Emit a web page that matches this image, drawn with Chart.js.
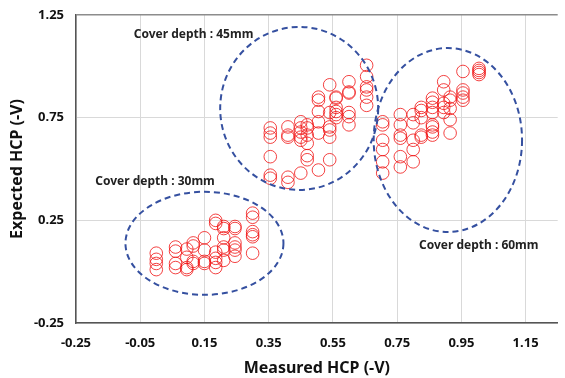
<!DOCTYPE html>
<html>
<head>
<meta charset="utf-8">
<script src="https://cdn.jsdelivr.net/npm/chart.js@4"></script>
<style>
  html, body { margin: 0; padding: 0; background: #fff; }
  #wrap { width: 565px; height: 378px; }
</style>
</head>
<body>
<div id="wrap"><canvas id="hcpChart"></canvas></div>
<script>
// ===== Data =====
const xTicks = [-0.25, -0.05, 0.15, 0.35, 0.55, 0.75, 0.95, 1.15];
const yTicks = [-0.25, 0.25, 0.75, 1.25];

// cover depth 30mm
const depth30X = [0,0,0,0, 0.06,0.06,0.06,0.06, 0.095,0.095,0.095,0.095, 0.115,0.115,0.115,0.115,
  0.15,0.15,0.15,0.15, 0.185,0.185,0.185,0.185,0.185,0.185, 0.21,0.21,0.21,0.21,0.21,0.21,
  0.245,0.245,0.245,0.245,0.245,0.245, 0.30,0.30,0.30,0.30,0.30,0.30];
const depth30Y = [0.09,0.06,0.04,0.01, 0.12,0.10,0.04,0.02, 0.11,0.07,0.02,0.01, 0.14,0.125,0.05,0.04,
  0.165,0.105,0.05,0.04, 0.25,0.235,0.095,0.065,0.045,0.02, 0.22,0.21,0.165,0.12,0.105,0.055,
  0.22,0.21,0.14,0.12,0.105,0.075, 0.285,0.265,0.195,0.18,0.17,0.09];

// cover depth 45mm
const depth45X = [0.355,0.355,0.355,0.355,0.355,0.355, 0.41,0.41,0.41,0.41,0.41,
  0.45,0.45,0.45,0.45,0.45,0.45, 0.47,0.47,0.47,0.47,0.47,0.47, 0.505,0.505,0.505,0.505,0.505,0.505,
  0.54,0.54,0.54,0.54,0.54,0.54, 0.56,0.56,0.56,0.56,0.56,0.56, 0.60,0.60,0.60,0.60,0.60,0.60,
  0.655,0.655,0.655,0.655,0.655,0.655];
const depth45Y = [0.70,0.675,0.655,0.56,0.47,0.455, 0.705,0.665,0.655,0.46,0.435,
  0.73,0.70,0.68,0.655,0.64,0.48, 0.715,0.70,0.665,0.625,0.565,0.545, 0.85,0.835,0.78,0.73,0.675,0.495,
  0.91,0.775,0.705,0.69,0.655,0.545, 0.85,0.845,0.80,0.78,0.765,0.75, 0.925,0.875,0.87,0.775,0.755,0.715,
  1.005,0.95,0.90,0.885,0.85,0.81];

// cover depth 60mm
const depth60X = [0.705,0.705,0.705,0.705,0.705,0.705, 0.76,0.76,0.76,0.76,0.76,0.76,
  0.80,0.80,0.80,0.80,0.80, 0.825,0.825,0.825,0.825,0.825, 0.86,0.86,0.86,0.86,0.86,0.86,0.86,0.86,
  0.895,0.895,0.895,0.895,0.895, 0.915,0.915,0.915,0.915,0.915, 0.955,0.955,0.955,0.955,0.955,
  1.005,1.005,1.005,1.005];
const depth60Y = [0.73,0.715,0.64,0.595,0.535,0.48, 0.765,0.715,0.665,0.65,0.56,0.51,
  0.765,0.725,0.64,0.595,0.535, 0.80,0.785,0.75,0.665,0.655, 0.845,0.825,0.80,0.775,0.715,0.705,0.68,0.665,
  0.925,0.885,0.82,0.80,0.775, 0.85,0.835,0.795,0.74,0.675, 0.975,0.885,0.87,0.85,0.835,
  0.99,0.98,0.97,0.96];

const groupLabels = ['Cover depth : 30mm', 'Cover depth : 45mm', 'Cover depth : 60mm'];

// ellipse outlines (data units): centre x, centre y, radius x, radius y
const ellipses = [
  { cx: 0.15, cy: 0.138, rx: 0.246, ry: 0.251 },
  { cx: 0.445, cy: 0.795, rx: 0.246, ry: 0.397 },
  { cx: 0.908, cy: 0.641, rx: 0.231, ry: 0.448 }
];
// label anchors (left, middle) in data units
const labelPos = [
  { x: -0.19, y: 0.437 },
  { x: -0.07, y: 1.155 },
  { x: 0.818, y: 0.125 }
];

const toPoints = (xs, ys) => xs.map((x, i) => ({ x: x, y: ys[i] }));
const allPoints = [
  ...toPoints(depth30X, depth30Y),
  ...toPoints(depth45X, depth45Y),
  ...toPoints(depth60X, depth60Y)
];

// ===== Ellipses + labels plugin =====
const groupsPlugin = {
  id: 'groups',
  afterDatasetsDraw(chart) {
    const { ctx, scales: { x, y } } = chart;
    ctx.save();
    ctx.strokeStyle = '#3550a0';
    ctx.lineWidth = 2;
    ctx.setLineDash([6, 4]);
    ellipses.forEach(e => {
      const cx = x.getPixelForValue(e.cx);
      const cy = y.getPixelForValue(e.cy);
      const rx = Math.abs(x.getPixelForValue(e.cx + e.rx) - cx);
      const ry = Math.abs(y.getPixelForValue(e.cy + e.ry) - cy);
      ctx.beginPath();
      ctx.ellipse(cx, cy, rx, ry, 0, 0, Math.PI * 2);
      ctx.stroke();
    });
    ctx.setLineDash([]);
    ctx.fillStyle = '#222';
    ctx.font = 'bold 12px "Noto Sans", sans-serif';
    ctx.textBaseline = 'middle';
    groupLabels.forEach((t, i) => {
      ctx.fillText(t, x.getPixelForValue(labelPos[i].x), y.getPixelForValue(labelPos[i].y));
    });
    ctx.restore();
  }
};

const tickFont = { family: '"Noto Sans", sans-serif', size: 13, weight: 'bold' };
const titleFont = { family: '"Noto Sans", sans-serif', size: 16, weight: 'bold' };

new Chart(document.getElementById('hcpChart').getContext('2d'), {
  type: 'scatter',
  data: {
    datasets: [{
      label: 'HCP',
      data: allPoints,
      pointStyle: 'circle',
      pointRadius: 6.3,
      pointBorderWidth: 1,
      pointBorderColor: 'rgba(240,20,20,0.8)',
      pointBackgroundColor: 'rgba(0,0,0,0)'
    }]
  },
  options: {
    responsive: true,
    maintainAspectRatio: false,
    animation: false,
    layout: { padding: { top: 15, right: 2, left: 4, bottom: 0 } },
    plugins: { legend: { display: false }, tooltip: { enabled: false } },
    scales: {
      x: {
        type: 'linear',
        min: -0.25,
        max: 1.25,
        afterBuildTicks: s => { s.ticks = xTicks.map(v => ({ value: v })); },
        afterFit: s => { s.height = 55; s.paddingLeft = 0; s.paddingRight = 0; },
        ticks: { color: '#111', font: tickFont, padding: 12, callback: v => v.toFixed(2) },
        grid: { color: '#d9d9d9', drawTicks: false },
        border: { color: '#555', width: 1.5 },
        title: { display: true, text: 'Measured HCP (-V)', color: '#111', font: titleFont, padding: { top: 0, bottom: 0 } }
      },
      y: {
        type: 'linear',
        min: -0.25,
        max: 1.25,
        afterBuildTicks: s => { s.ticks = yTicks.map(v => ({ value: v })); },
        afterFit: s => { s.width = 72; s.paddingTop = 0; s.paddingBottom = 0; },
        ticks: { color: '#111', font: tickFont, padding: 12, callback: v => v.toFixed(2) },
        grid: {
          color: ctx => ctx.tick && ctx.tick.value === 1.25 ? '#8c8c8c' : '#d9d9d9',
          lineWidth: ctx => ctx.tick && ctx.tick.value === 1.25 ? 1.5 : 1,
          drawTicks: false
        },
        border: { color: '#555', width: 1.5 },
        title: { display: true, text: 'Expected HCP (-V)', color: '#111', font: titleFont, padding: { bottom: 2 } }
      }
    }
  },
  plugins: [groupsPlugin]
});
</script>
</body>
</html>
